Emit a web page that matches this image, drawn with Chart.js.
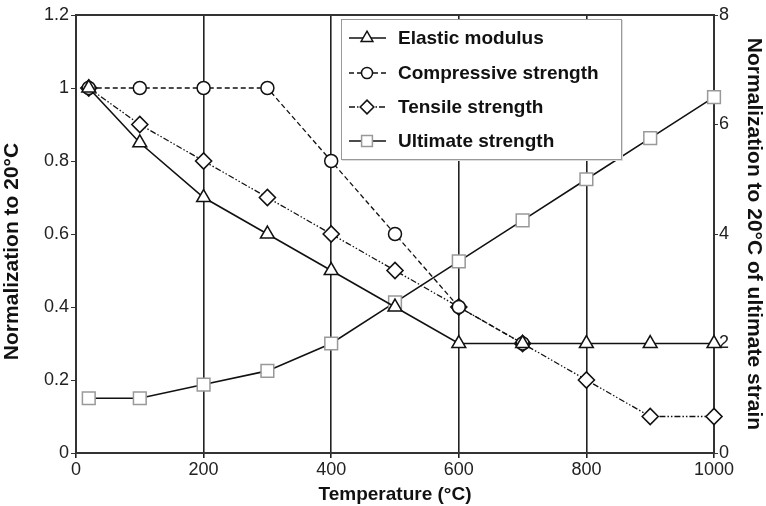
<!DOCTYPE html>
<html>
<head>
<meta charset="utf-8">
<script src="https://cdn.jsdelivr.net/npm/chart.js@4/dist/chart.umd.min.js"></script>
<style>
  html, body { margin: 0; padding: 0; background: #fff; }
  #wrap { width: 766px; height: 506px; position: relative; }
</style>
</head>
<body>
<div id="wrap"><canvas id="c" width="766" height="506"></canvas></div>
<script>
// ---- data ----
const temperatures = [20, 100, 200, 300, 400, 500, 600, 700, 800, 900, 1000];
const elasticModulus = [1.0, 0.85, 0.7, 0.6, 0.5, 0.4, 0.3, 0.3, 0.3, 0.3, 0.3];
const compressiveStrength = [1.0, 1.0, 1.0, 1.0, 0.8, 0.6, 0.4, 0.3];
const tensileStrength = [1.0, 0.9, 0.8, 0.7, 0.6, 0.5, 0.4, 0.3, 0.2, 0.1, 0.1];
const ultimateStrength = [1.0, 1.0, 1.25, 1.5, 2.0, 2.75, 3.5, 4.25, 5.0, 5.75, 6.5];
const seriesNames = ['Elastic modulus', 'Compressive strength', 'Tensile strength', 'Ultimate strength'];
const xTitle = 'Temperature (\u00B0C)';
const yTitle = 'Normalization to 20\u00B0C';
const y2Title = 'Normalization to 20\u00B0C of ultimate strain';

const pts = (vals) => vals.map((v, i) => ({ x: temperatures[i], y: v }));

const FONT = "'Liberation Sans', Arial, sans-serif";

const datasets = [
  { label: seriesNames[0], data: pts(elasticModulus), yAxisID: 'y', clip: false,
    borderColor: '#111', borderWidth: 1.6, borderDash: [],
    pointStyle: 'triangle', pointRadius: 8, pointBorderColor: '#111', pointBackgroundColor: '#fff', pointBorderWidth: 1.5 },
  { label: seriesNames[1], data: pts(compressiveStrength), yAxisID: 'y', clip: false,
    borderColor: '#111', borderWidth: 1.3, borderDash: [5, 3],
    pointStyle: 'circle', pointRadius: 6.5, pointBorderColor: '#111', pointBackgroundColor: '#fff', pointBorderWidth: 1.5 },
  { label: seriesNames[2], data: pts(tensileStrength), yAxisID: 'y', clip: false,
    borderColor: '#111', borderWidth: 1.3, borderDash: [6, 2, 1.5, 2, 1.5, 2],
    pointStyle: 'rectRot', pointRadius: 8, pointBorderColor: '#111', pointBackgroundColor: '#fff', pointBorderWidth: 1.6 },
  { label: seriesNames[3], data: pts(ultimateStrength), yAxisID: 'y2', clip: false,
    borderColor: '#111', borderWidth: 1.6, borderDash: [],
    pointStyle: 'rect', pointRadius: 9, pointBorderColor: '#999', pointBackgroundColor: '#fff', pointBorderWidth: 1.5 }
];

// draws top border of plot
const framePlugin = {
  id: 'frame',
  beforeDatasetsDraw(chart) {
    const { ctx, chartArea: a } = chart;
    ctx.save();
    ctx.strokeStyle = '#333';
    ctx.lineWidth = 2;
    ctx.beginPath();
    ctx.moveTo(a.left, a.top);
    ctx.lineTo(a.right, a.top);
    ctx.stroke();
    ctx.restore();
  }
};

// legend box inside plot
const legendPlugin = {
  id: 'boxLegend',
  afterDraw(chart) {
    const { ctx } = chart;
    const bx = 341, by = 19, bw = 280, bh = 140;
    ctx.save();
    ctx.fillStyle = '#fff';
    ctx.fillRect(bx, by, bw, bh);
    ctx.strokeStyle = '#ddd';
    ctx.lineWidth = 2;
    ctx.beginPath();
    ctx.moveTo(bx + 1, by + bh + 1);
    ctx.lineTo(bx + bw + 1, by + bh + 1);
    ctx.lineTo(bx + bw + 1, by + 1);
    ctx.stroke();
    ctx.strokeStyle = '#999';
    ctx.lineWidth = 1;
    ctx.strokeRect(bx + 0.5, by + 0.5, bw, bh);
    const rows = [38, 73, 107, 141];
    chart.data.datasets.forEach((ds, i) => {
      const y = rows[i];
      ctx.save();
      ctx.strokeStyle = ds.borderColor;
      ctx.lineWidth = ds.borderWidth;
      ctx.setLineDash(ds.borderDash || []);
      ctx.beginPath();
      ctx.moveTo(349, y);
      ctx.lineTo(386, y);
      ctx.stroke();
      ctx.restore();
      ctx.save();
      ctx.strokeStyle = ds.pointBorderColor;
      ctx.fillStyle = ds.pointBackgroundColor;
      ctx.lineWidth = ds.pointBorderWidth;
      Chart.helpers.drawPoint(ctx, {
        pointStyle: ds.pointStyle, radius: ds.pointRadius * 0.85, rotation: 0, borderWidth: ds.pointBorderWidth
      }, 367, y);
      ctx.restore();
      ctx.fillStyle = '#111';
      ctx.font = 'bold 19px ' + FONT;
      ctx.textBaseline = 'middle';
      ctx.textAlign = 'left';
      ctx.fillText(ds.label, 398, y + 1);
    });
    ctx.restore();
  }
};

const numFmt = (v) => String(Math.round(v * 10) / 10);

new Chart(document.getElementById('c'), {
  type: 'line',
  data: { datasets },
  options: {
    responsive: false,
    animation: false,
    layout: { padding: { top: 15, left: 0, right: 0, bottom: 0 } },
    plugins: { legend: { display: false }, tooltip: { enabled: false } },
    scales: {
      x: {
        type: 'linear', min: 0, max: 1000,
        ticks: { stepSize: 200, color: '#222', font: { family: FONT, size: 18 }, padding: 1, maxRotation: 0, callback: numFmt },
        grid: { display: true, color: '#222', lineWidth: 1.6, drawTicks: true, tickLength: 5, tickColor: '#222' },
        border: { display: true, color: '#333', width: 2 },
        title: { display: true, text: xTitle, color: '#111', font: { family: FONT, size: 19, weight: 'bold' }, padding: { top: 0, bottom: 0 } },
        afterFit(s) { s.height = 53; }
      },
      y: {
        position: 'left', min: 0, max: 1.2,
        ticks: { stepSize: 0.2, color: '#222', font: { family: FONT, size: 18 }, padding: 2, callback: numFmt },
        grid: { drawOnChartArea: false, drawTicks: true, tickLength: 5, tickColor: '#333' },
        border: { display: true, color: '#333', width: 2 },
        title: { display: true, text: yTitle + '      ', color: '#111', font: { family: FONT, size: 21, weight: 'bold' }, padding: { top: 0, bottom: 2 } },
        afterFit(s) { s.width = 76; }
      },
      y2: {
        position: 'right', min: 0, max: 8,
        ticks: { stepSize: 2, color: '#222', font: { family: FONT, size: 18 }, padding: 1, callback: numFmt },
        grid: { drawOnChartArea: false, drawTicks: true, tickLength: 4, tickColor: '#333' },
        border: { display: true, color: '#333', width: 2 },
        title: { display: true, text: y2Title, color: '#111', font: { family: FONT, size: 21, weight: 'bold' }, padding: { top: 0, bottom: 0 } },
        afterFit(s) { s.width = 52; }
      }
    }
  },
  plugins: [framePlugin, legendPlugin]
});
</script>
</body>
</html>
